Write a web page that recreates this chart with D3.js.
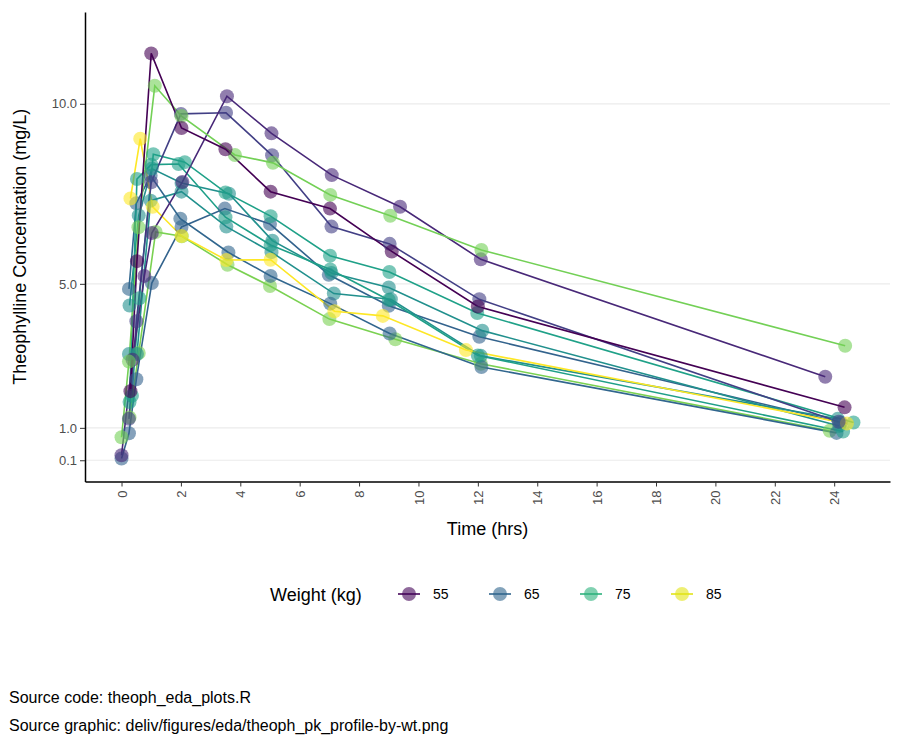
<!DOCTYPE html>
<html>
<head>
<meta charset="utf-8">
<script src="https://cdn.jsdelivr.net/npm/d3@7"></script>
<style>
  body { margin: 0; background: #fff; }
  text { font-family: "Liberation Sans", Arial, sans-serif; }
</style>
</head>
<body>
<div id="chart"></div>
<script>
// Theophylline data, one entry per subject (zero concentrations dropped)
var subjects = [6, 7, 8, 11, 3, 2, 4, 9, 12, 10, 1, 5];
var weights = {1: 79.6, 2: 72.4, 3: 70.5, 4: 72.7, 5: 54.6, 6: 80.0, 7: 64.6, 8: 70.5, 9: 86.4, 10: 58.2, 11: 65.0, 12: 60.5};
var times = {
  1: [0, 0.25, 0.57, 1.12, 2.02, 3.82, 5.10, 7.03, 9.05, 12.12, 24.37],
  2: [0.27, 0.52, 1.00, 1.92, 3.50, 5.02, 7.03, 9.00, 12.00, 24.30],
  3: [0.27, 0.58, 1.02, 2.02, 3.62, 5.08, 7.07, 9.00, 12.15, 24.17],
  4: [0.35, 0.60, 1.07, 2.13, 3.50, 5.02, 7.02, 9.02, 11.98, 24.65],
  5: [0.30, 0.52, 1.00, 2.02, 3.50, 5.02, 7.02, 9.10, 12.00, 24.35],
  6: [0.27, 0.58, 1.15, 2.03, 3.57, 5.00, 7.00, 9.22, 12.10, 23.85],
  7: [0, 0.25, 0.50, 1.02, 2.02, 3.48, 5.00, 6.98, 9.00, 12.05, 24.22],
  8: [0.25, 0.52, 0.98, 2.02, 3.53, 5.05, 7.15, 9.07, 12.10, 24.12],
  9: [0.30, 0.63, 1.05, 2.02, 3.53, 5.02, 7.17, 8.80, 11.60, 24.43],
  10: [0, 0.37, 0.77, 1.02, 2.05, 3.55, 5.05, 7.08, 9.38, 12.10, 23.70],
  11: [0.25, 0.50, 0.98, 1.98, 3.60, 5.02, 7.03, 9.03, 12.12, 24.08],
  12: [0.25, 0.50, 1.00, 2.00, 3.52, 5.07, 7.07, 9.03, 12.05, 24.15]
};
var concs = {
  1: [0.74, 2.84, 6.57, 10.50, 9.66, 8.58, 8.36, 7.47, 6.89, 5.94, 3.28],
  2: [1.72, 7.91, 8.31, 8.33, 6.85, 6.08, 5.40, 4.55, 3.01, 0.90],
  3: [4.40, 6.90, 8.20, 7.80, 7.50, 6.20, 5.30, 4.90, 3.70, 1.05],
  4: [1.89, 4.60, 8.60, 8.38, 7.54, 6.88, 5.78, 5.33, 4.19, 1.15],
  5: [2.02, 5.63, 11.40, 9.33, 8.74, 7.56, 7.09, 5.90, 4.37, 1.57],
  6: [1.29, 3.08, 6.44, 6.32, 5.53, 4.94, 4.02, 3.46, 2.78, 0.92],
  7: [0.15, 0.85, 2.35, 5.02, 6.58, 7.09, 6.66, 5.25, 4.39, 3.53, 1.15],
  8: [3.05, 3.05, 7.31, 7.56, 6.59, 5.88, 4.73, 4.57, 3.00, 1.25],
  9: [7.37, 9.03, 7.14, 6.33, 5.66, 5.67, 4.24, 4.11, 3.16, 1.12],
  10: [0.24, 2.89, 5.22, 6.41, 7.83, 10.21, 9.18, 8.02, 7.14, 5.68, 2.42],
  11: [4.86, 7.24, 8.00, 6.81, 5.87, 5.22, 4.45, 3.62, 2.69, 0.86],
  12: [1.25, 3.96, 7.82, 9.72, 9.75, 8.57, 6.59, 6.11, 4.57, 1.17]
};
var xTicks = d3.range(0, 25, 2);
var yTicks = [0.1, 1.0, 5.0, 10.0];
var legendValues = [55, 65, 75, 85];

var W = 900, H = 750;
var pLeft = 85, pRight = 890, pTop = 12, pBottom = 481.5;

var svg = d3.select("#chart").append("svg").attr("width", W).attr("height", H);

var x = d3.scaleLinear().domain([-1.23, 25.88]).range([pLeft, pRight]);
var y = d3.scaleLinear().domain([-0.49, 12.55]).range([pBottom, pTop]);
var color = d3.scaleSequential(d3.interpolateViridis).domain([54.6, 86.4]);

// grid
svg.append("g").selectAll("line").data(yTicks).enter().append("line")
  .attr("x1", pLeft).attr("x2", pRight)
  .attr("y1", function(d) { return y(d); }).attr("y2", function(d) { return y(d); })
  .attr("stroke", "#ebebeb").attr("stroke-width", 1.2);

var series = subjects.map(function(s) {
  return { id: s, wt: weights[s], pts: times[s].map(function(t, i) { return { t: t, c: concs[s][i] }; }) };
});

var line = d3.line().x(function(d) { return x(d.t); }).y(function(d) { return y(d.c); });

svg.append("g").selectAll("path").data(series).enter().append("path")
  .attr("d", function(d) { return line(d.pts); })
  .attr("fill", "none").attr("stroke-width", 1.6)
  .attr("stroke", function(d) { return color(d.wt); });

series.forEach(function(s) {
  svg.append("g").selectAll("circle").data(s.pts).enter().append("circle")
    .attr("cx", function(d) { return x(d.t); })
    .attr("cy", function(d) { return y(d.c); })
    .attr("r", 7)
    .attr("fill", color(s.wt)).attr("fill-opacity", 0.6);
});

// axes
var xAxis = svg.append("g").attr("transform", "translate(0," + pBottom + ")")
  .call(d3.axisBottom(x).tickValues(xTicks).tickSize(5).tickSizeOuter(0));
xAxis.selectAll("text")
  .attr("transform", "rotate(-90)").attr("x", -9).attr("y", 0).attr("dy", "0.35em")
  .style("text-anchor", "end").style("font-size", "13px").attr("fill", "#4d4d4d");

var yAxis = svg.append("g").attr("transform", "translate(" + pLeft + ",0)")
  .call(d3.axisLeft(y).tickValues(yTicks).tickFormat(d3.format(".1f")).tickSize(5).tickSizeOuter(0));
yAxis.selectAll("text").style("font-size", "13px").attr("fill", "#4d4d4d");

[xAxis, yAxis].forEach(function(a) {
  a.select(".domain").attr("stroke", "#000").attr("stroke-width", 1.5);
  a.selectAll(".tick line").attr("stroke", "#333");
});

svg.append("text").attr("x", (pLeft + pRight) / 2).attr("y", 535)
  .attr("text-anchor", "middle").style("font-size", "18px").text("Time (hrs)");
svg.append("text").attr("transform", "translate(26," + (pTop + pBottom) / 2 + ") rotate(-90)")
  .attr("text-anchor", "middle").style("font-size", "18px").text("Theophylline Concentration (mg/L)");

// legend
var lg = svg.append("g");
lg.append("text").attr("x", 270).attr("y", 601).style("font-size", "18px").text("Weight (kg)");
var keys = lg.selectAll("g").data(legendValues).enter().append("g")
  .attr("transform", function(d, i) { return "translate(" + (409 + i * 91) + ",594)"; });
keys.append("line").attr("x1", -11).attr("x2", 11)
  .attr("stroke", function(d) { return color(d); }).attr("stroke-width", 1.6);
keys.append("circle").attr("r", 7).attr("fill", function(d) { return color(d); }).attr("fill-opacity", 0.6);
keys.append("text").attr("x", 24).attr("y", 5).style("font-size", "14px").text(function(d) { return d; });

svg.append("text").attr("x", 9).attr("y", 703).style("font-size", "16px").text("Source code: theoph_eda_plots.R");
svg.append("text").attr("x", 9).attr("y", 731).style("font-size", "16px").text("Source graphic: deliv/figures/eda/theoph_pk_profile-by-wt.png");
</script>
</body>
</html>
